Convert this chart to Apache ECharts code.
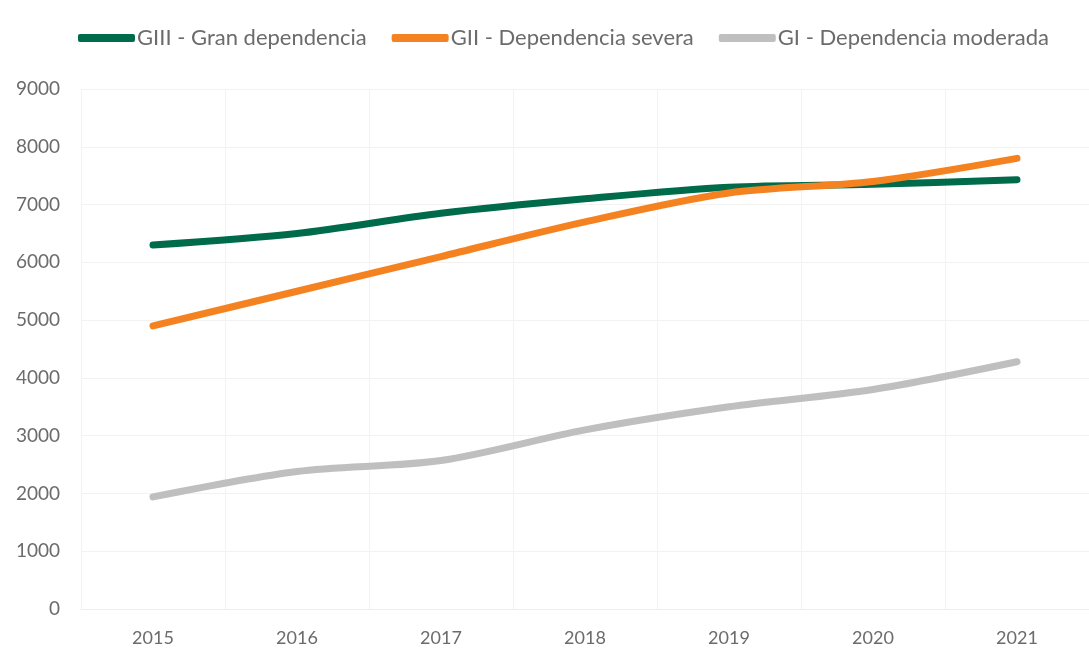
<!DOCTYPE html>
<html>
<head>
<meta charset="utf-8">
<script src="https://cdn.jsdelivr.net/npm/echarts@6/dist/echarts.min.js"></script>
<style>
  html, body { margin: 0; padding: 0; background: #fff; }
  #chart { width: 1089px; height: 652px; }
</style>
</head>
<body>
<div id="chart"></div>
<script>
const years = ['2015', '2016', '2017', '2018', '2019', '2020', '2021']
const granDependencia = [6300, 6500, 6850, 7100, 7300, 7350, 7430]
const dependenciaSevera = [4900, 5500, 6100, 6700, 7200, 7400, 7800]
const dependenciaModerada = [1940, 2380, 2570, 3100, 3500, 3800, 4280]
const seriesNames = ['GIII - Gran dependencia', 'GII - Dependencia severa', 'GI - Dependencia moderada']
const colors = ['#006b4b', '#f58220', '#bfbfbf']

const chart = echarts.init(document.getElementById('chart'))

function lineSeries(name, data, color) {
  return {
    type: 'line',
    name: name,
    data: data,
    smooth: 0.3,
    symbol: 'none',
    lineStyle: { width: 7, color: color, cap: 'round' },
    itemStyle: { color: color }
  }
}

chart.setOption({
  animation: false,
  color: colors,
  textStyle: { fontFamily: 'Lato' },
  legend: {
    top: 22,
    left: 73,
    icon: 'roundRect',
    itemWidth: 57,
    itemHeight: 8,
    itemGap: 25,
    textStyle: { color: '#6b6b6b', fontSize: 22, fontFamily: 'Lato', padding: [0, 0, 0, -3] },
    data: seriesNames
  },
  grid: {
    left: 81,
    top: 89,
    width: 1011,
    height: 520,
    containLabel: false
  },
  xAxis: {
    type: 'category',
    data: years,
    boundaryGap: true,
    axisLine: { show: true, lineStyle: { color: '#eeeeee' } },
    axisTick: { show: false },
    axisLabel: { color: '#6b6b6b', fontSize: 18, margin: 20 },
    splitLine: { show: true, lineStyle: { color: '#f2f2f2' } }
  },
  yAxis: {
    type: 'value',
    min: 0,
    max: 9000,
    interval: 1000,
    axisLine: { show: false },
    axisTick: { show: false },
    axisLabel: { color: '#6b6b6b', fontSize: 19, margin: 21, formatter: v => String(v) },
    splitLine: { show: true, lineStyle: { color: '#f2f2f2' } }
  },
  series: [
    lineSeries(seriesNames[0], granDependencia, colors[0]),
    lineSeries(seriesNames[1], dependenciaSevera, colors[1]),
    lineSeries(seriesNames[2], dependenciaModerada, colors[2])
  ]
})
</script>
</body>
</html>
